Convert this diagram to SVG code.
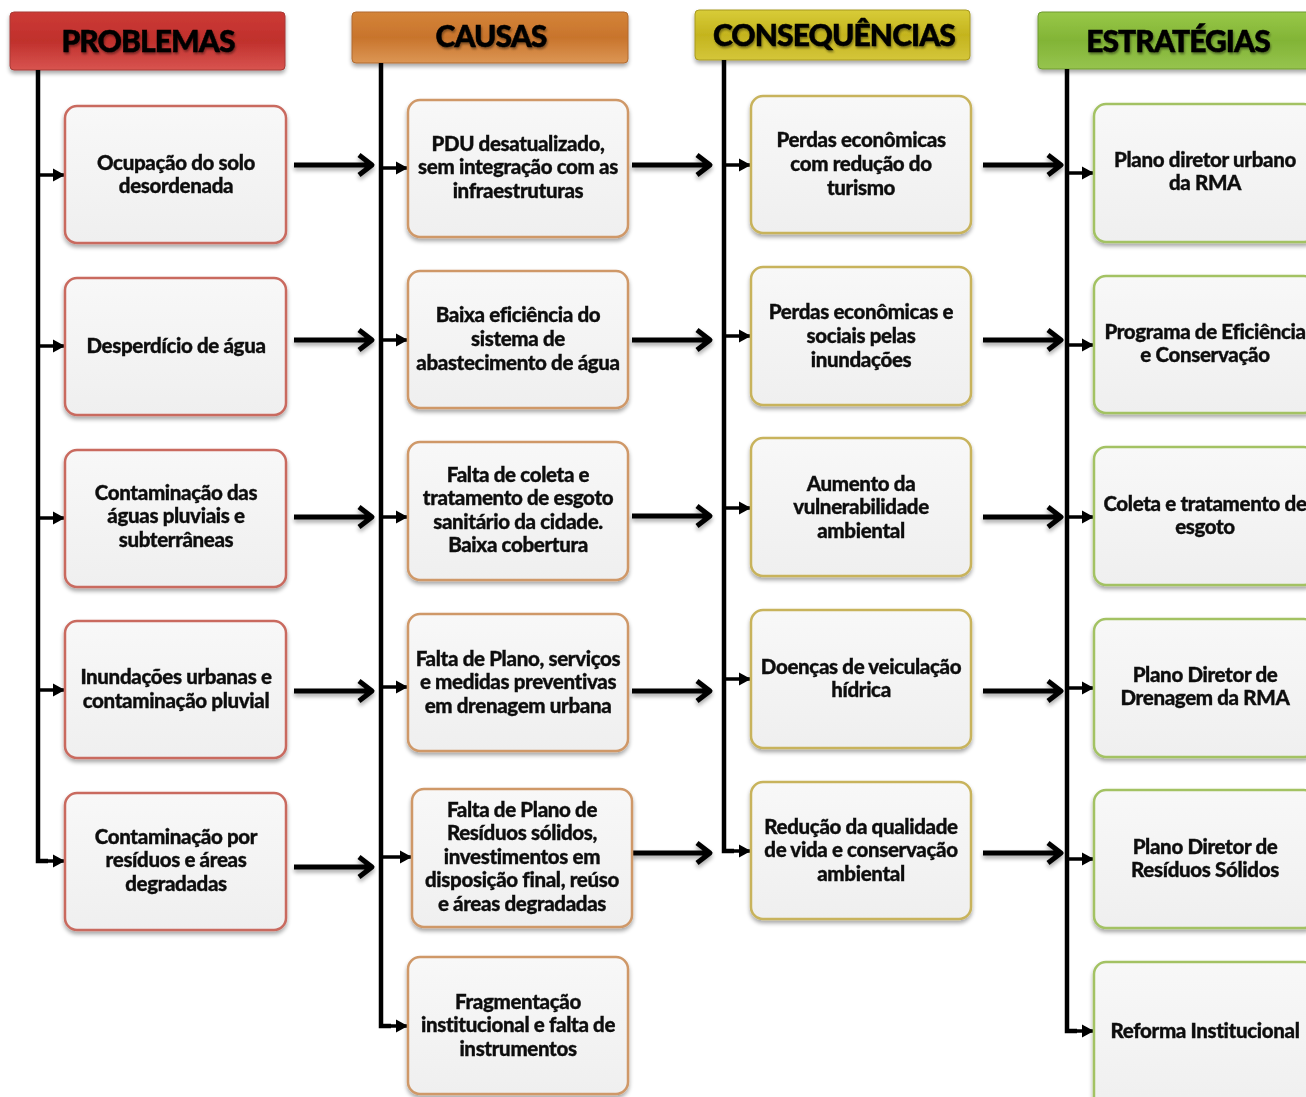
<svg xmlns="http://www.w3.org/2000/svg" width="1306" height="1097" viewBox="0 0 1306 1097">
<defs>
<style>
.t{font-family:Lato,"Liberation Sans",sans-serif;font-weight:900;font-size:20.5px;fill:#111;stroke:#111;stroke-width:0.35;text-anchor:middle;letter-spacing:-0.35px}
.h{font-family:Lato,"Liberation Sans",sans-serif;font-weight:900;font-size:30px;fill:#000;stroke:#000;stroke-width:0.5;text-anchor:middle;letter-spacing:-0.9px}
.box{stroke-width:2.5;fill:url(#bf)}
.p{stroke:#c96a5f}.c{stroke:#cf9868}.q{stroke:#c8b35c}.e{stroke:#a3c264}
.vl{stroke:#000;stroke-width:4.5;fill:none}
.sa{stroke:#000;stroke-width:3.5;fill:none;marker-end:url(#tri)}
.ba{stroke:#000;stroke-width:5;fill:none;stroke-linecap:butt;stroke-linejoin:round}
</style>
<linearGradient id="bf" x1="0" y1="0" x2="0" y2="1"><stop offset="0" stop-color="#f8f8f8"/><stop offset="1" stop-color="#efefef"/></linearGradient>
<linearGradient id="gp" x1="0" y1="0" x2="0" y2="1"><stop offset="0" stop-color="#cc3a36"/><stop offset="0.5" stop-color="#c0302c"/><stop offset="1" stop-color="#d85450"/></linearGradient>
<linearGradient id="gc" x1="0" y1="0" x2="0" y2="1"><stop offset="0" stop-color="#d48438"/><stop offset="0.5" stop-color="#c8742c"/><stop offset="1" stop-color="#dc9654"/></linearGradient>
<linearGradient id="gq" x1="0" y1="0" x2="0" y2="1"><stop offset="0" stop-color="#d8cc38"/><stop offset="0.5" stop-color="#c4b41e"/><stop offset="1" stop-color="#d4c63a"/></linearGradient>
<linearGradient id="ge" x1="0" y1="0" x2="0" y2="1"><stop offset="0" stop-color="#98c848"/><stop offset="0.5" stop-color="#82b436"/><stop offset="1" stop-color="#96c44e"/></linearGradient>
<filter id="sh" x="-10%" y="-10%" width="120%" height="130%"><feGaussianBlur in="SourceAlpha" stdDeviation="2"/><feOffset dx="0" dy="3"/><feComponentTransfer><feFuncA type="linear" slope="0.35"/></feComponentTransfer><feMerge><feMergeNode/><feMergeNode in="SourceGraphic"/></feMerge></filter>
<filter id="ts" x="-10%" y="-20%" width="120%" height="150%"><feGaussianBlur in="SourceAlpha" stdDeviation="1"/><feOffset dx="1" dy="2"/><feComponentTransfer><feFuncA type="linear" slope="0.4"/></feComponentTransfer><feMerge><feMergeNode/><feMergeNode in="SourceGraphic"/></feMerge></filter>
<marker id="tri" markerUnits="userSpaceOnUse" markerWidth="14" markerHeight="14" refX="12" refY="7" orient="auto"><path d="M0,0.5 L12,7 L0,13.5 Z" fill="#000"/></marker>
</defs>
<rect width="1306" height="1097" fill="#fff"/>

<!-- headers -->
<g id="h-problemas" filter="url(#sh)"><rect x="10" y="12" width="275" height="58" rx="4" fill="url(#gp)" stroke="#a83a36" stroke-width="1"/><text class="h" x="148" y="52" filter="url(#ts)">PROBLEMAS</text></g>
<g id="h-causas" filter="url(#sh)"><rect x="352" y="12" width="276" height="51" rx="4" fill="url(#gc)" stroke="#b06a30" stroke-width="1"/><text class="h" x="491" y="47" filter="url(#ts)">CAUSAS</text></g>
<g id="h-consequencias" filter="url(#sh)"><rect x="695" y="10" width="275" height="50" rx="4" fill="url(#gq)" stroke="#a89a20" stroke-width="1"/><text class="h" x="834" y="46" filter="url(#ts)">CONSEQUÊNCIAS</text></g>
<g id="h-estrategias" filter="url(#sh)"><rect x="1038" y="12" width="280" height="57" rx="4" fill="url(#ge)" stroke="#6e9a30" stroke-width="1"/><text class="h" x="1178" y="52" filter="url(#ts)">ESTRATÉGIAS</text></g>

<!-- connectors -->
<g id="connectors">
<path class="vl" d="M38,70 V861 H48"/>
<path class="vl" d="M381,63 V1026 H391"/>
<path class="vl" d="M724,60 V851 H734"/>
<path class="vl" d="M1067,69 V1031 H1077"/>
<path class="sa" d="M38,175 H65"/><path class="sa" d="M38,346 H65"/><path class="sa" d="M38,518 H65"/><path class="sa" d="M38,690 H65"/><path class="sa" d="M46,861 H65"/>
<path class="sa" d="M381,168 H408"/><path class="sa" d="M381,340 H408"/><path class="sa" d="M381,517 H408"/><path class="sa" d="M381,687 H408"/><path class="sa" d="M381,857 H412"/><path class="sa" d="M389,1026 H408"/>
<path class="sa" d="M724,165 H751"/><path class="sa" d="M724,336 H751"/><path class="sa" d="M724,508 H751"/><path class="sa" d="M724,679 H751"/><path class="sa" d="M732,851 H751"/>
<path class="sa" d="M1067,173 H1094"/><path class="sa" d="M1067,345 H1094"/><path class="sa" d="M1067,517 H1094"/><path class="sa" d="M1067,688 H1094"/><path class="sa" d="M1067,859 H1094"/><path class="sa" d="M1075,1031 H1094"/>
<g filter="url(#sh)">
<path class="ba" d="M294,165 H371 M359,155 L372,165 L359,175"/>
<path class="ba" d="M294,340 H371 M359,330 L372,340 L359,350"/>
<path class="ba" d="M294,517 H371 M359,507 L372,517 L359,527"/>
<path class="ba" d="M294,691 H371 M359,681 L372,691 L359,701"/>
<path class="ba" d="M294,867 H371 M359,857 L372,867 L359,877"/>
<path class="ba" d="M632,165 H709 M697,155 L710,165 L697,175"/>
<path class="ba" d="M632,340 H709 M697,330 L710,340 L697,350"/>
<path class="ba" d="M632,516 H709 M697,506 L710,516 L697,526"/>
<path class="ba" d="M632,691 H709 M697,681 L710,691 L697,701"/>
<path class="ba" d="M632,853 H709 M697,843 L710,853 L697,863"/>
<path class="ba" d="M983,165 H1060 M1048,155 L1061,165 L1048,175"/>
<path class="ba" d="M983,340 H1060 M1048,330 L1061,340 L1048,350"/>
<path class="ba" d="M983,517 H1060 M1048,507 L1061,517 L1048,527"/>
<path class="ba" d="M983,691 H1060 M1048,681 L1061,691 L1048,701"/>
<path class="ba" d="M983,853 H1060 M1048,843 L1061,853 L1048,863"/>
</g>
</g>

<!-- Problemas -->
<g id="p1" filter="url(#sh)"><rect class="box p" x="65" y="106" width="221" height="137" rx="12"/><text class="t"><tspan x="176" y="170">Ocupação do solo</tspan><tspan x="176" y="193">desordenada</tspan></text></g>
<g id="p2" filter="url(#sh)"><rect class="box p" x="65" y="278" width="221" height="137" rx="12"/><text class="t" x="176" y="353">Desperdício de água</text></g>
<g id="p3" filter="url(#sh)"><rect class="box p" x="65" y="450" width="221" height="137" rx="12"/><text class="t"><tspan x="176" y="500">Contaminação das</tspan><tspan x="176" y="523">águas pluviais e</tspan><tspan x="176" y="547">subterrâneas</tspan></text></g>
<g id="p4" filter="url(#sh)"><rect class="box p" x="65" y="621" width="221" height="137" rx="12"/><text class="t"><tspan x="176" y="684">Inundações urbanas e</tspan><tspan x="176" y="708">contaminação pluvial</tspan></text></g>
<g id="p5" filter="url(#sh)"><rect class="box p" x="65" y="793" width="221" height="137" rx="12"/><text class="t"><tspan x="176" y="844">Contaminação por</tspan><tspan x="176" y="867">resíduos e áreas</tspan><tspan x="176" y="891">degradadas</tspan></text></g>

<!-- Causas -->
<g id="c1" filter="url(#sh)"><rect class="box c" x="408" y="100" width="220" height="137" rx="12"/><text class="t"><tspan x="518" y="151">PDU desatualizado,</tspan><tspan x="518" y="174">sem integração com as</tspan><tspan x="518" y="198">infraestruturas</tspan></text></g>
<g id="c2" filter="url(#sh)"><rect class="box c" x="408" y="271" width="220" height="137" rx="12"/><text class="t"><tspan x="518" y="322">Baixa eficiência do</tspan><tspan x="518" y="346">sistema de</tspan><tspan x="518" y="370">abastecimento de água</tspan></text></g>
<g id="c3" filter="url(#sh)"><rect class="box c" x="408" y="442" width="220" height="138" rx="12"/><text class="t"><tspan x="518" y="482">Falta de coleta e</tspan><tspan x="518" y="505">tratamento de esgoto</tspan><tspan x="518" y="529">sanitário da cidade.</tspan><tspan x="518" y="552">Baixa cobertura</tspan></text></g>
<g id="c4" filter="url(#sh)"><rect class="box c" x="408" y="614" width="220" height="137" rx="12"/><text class="t"><tspan x="518" y="666">Falta de Plano, serviços</tspan><tspan x="518" y="689">e medidas preventivas</tspan><tspan x="518" y="713">em drenagem urbana</tspan></text></g>
<g id="c5" filter="url(#sh)"><rect class="box c" x="412" y="789" width="220" height="138" rx="12"/><text class="t"><tspan x="522" y="817">Falta de Plano de</tspan><tspan x="522" y="840">Resíduos sólidos,</tspan><tspan x="522" y="864">investimentos em</tspan><tspan x="522" y="887">disposição final, reúso</tspan><tspan x="522" y="911">e áreas degradadas</tspan></text></g>
<g id="c6" filter="url(#sh)"><rect class="box c" x="408" y="957" width="220" height="137" rx="12"/><text class="t"><tspan x="518" y="1009">Fragmentação</tspan><tspan x="518" y="1032">institucional e falta de</tspan><tspan x="518" y="1056">instrumentos</tspan></text></g>

<!-- Consequências -->
<g id="q1" filter="url(#sh)"><rect class="box q" x="751" y="96" width="220" height="137" rx="12"/><text class="t"><tspan x="861" y="147">Perdas econômicas</tspan><tspan x="861" y="171">com redução do</tspan><tspan x="861" y="195">turismo</tspan></text></g>
<g id="q2" filter="url(#sh)"><rect class="box q" x="751" y="267" width="220" height="138" rx="12"/><text class="t"><tspan x="861" y="319">Perdas econômicas e</tspan><tspan x="861" y="343">sociais pelas</tspan><tspan x="861" y="367">inundações</tspan></text></g>
<g id="q3" filter="url(#sh)"><rect class="box q" x="751" y="438" width="220" height="138" rx="12"/><text class="t"><tspan x="861" y="491">Aumento da</tspan><tspan x="861" y="514">vulnerabilidade</tspan><tspan x="861" y="538">ambiental</tspan></text></g>
<g id="q4" filter="url(#sh)"><rect class="box q" x="751" y="610" width="220" height="138" rx="12"/><text class="t"><tspan x="861" y="674">Doenças de veiculação</tspan><tspan x="861" y="697">hídrica</tspan></text></g>
<g id="q5" filter="url(#sh)"><rect class="box q" x="751" y="782" width="220" height="137" rx="12"/><text class="t"><tspan x="861" y="834">Redução da qualidade</tspan><tspan x="861" y="857">de vida e conservação</tspan><tspan x="861" y="881">ambiental</tspan></text></g>

<!-- Estratégias -->
<g id="e1" filter="url(#sh)"><rect class="box e" x="1094" y="104" width="222" height="138" rx="12"/><text class="t"><tspan x="1205" y="167">Plano diretor urbano</tspan><tspan x="1205" y="190">da RMA</tspan></text></g>
<g id="e2" filter="url(#sh)"><rect class="box e" x="1094" y="276" width="222" height="137" rx="12"/><text class="t"><tspan x="1205" y="339">Programa de Eficiência</tspan><tspan x="1205" y="362">e Conservação</tspan></text></g>
<g id="e3" filter="url(#sh)"><rect class="box e" x="1094" y="447" width="222" height="138" rx="12"/><text class="t"><tspan x="1205" y="511">Coleta e tratamento de</tspan><tspan x="1205" y="534">esgoto</tspan></text></g>
<g id="e4" filter="url(#sh)"><rect class="box e" x="1094" y="619" width="222" height="138" rx="12"/><text class="t"><tspan x="1205" y="682">Plano Diretor de</tspan><tspan x="1205" y="705">Drenagem da RMA</tspan></text></g>
<g id="e5" filter="url(#sh)"><rect class="box e" x="1094" y="790" width="222" height="138" rx="12"/><text class="t"><tspan x="1205" y="854">Plano Diretor de</tspan><tspan x="1205" y="877">Resíduos Sólidos</tspan></text></g>
<g id="e6" filter="url(#sh)"><rect class="box e" x="1094" y="962" width="222" height="150" rx="12"/><text class="t" x="1205" y="1038">Reforma Institucional</text></g>
</svg>
